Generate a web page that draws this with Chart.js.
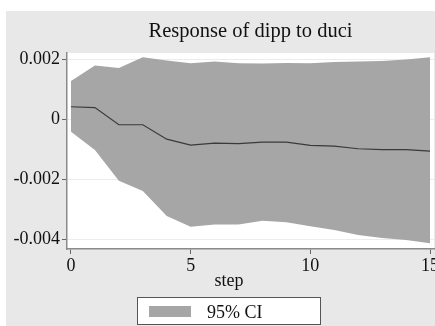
<!DOCTYPE html>
<html>
<head>
<meta charset="utf-8">
<script src="https://cdn.jsdelivr.net/npm/chart.js@4/dist/chart.umd.min.js"></script>
<style>
  html, body { margin: 0; padding: 0; background: #ffffff; overflow: hidden; width: 435px; height: 326px; }
  #wrap { position: absolute; left: 6px; top: 11px; width: 446px; height: 315px; }
</style>
</head>
<body>
<div id="wrap"><canvas id="c"></canvas></div>
<script>
const steps = [0, 1, 2, 3, 4, 5, 6, 7, 8, 9, 10, 11, 12, 13, 14, 15];
const irf = [0.00041, 0.00038, -0.00019, -0.00019, -0.00067, -0.00087, -0.00080, -0.00082, -0.00077, -0.00077, -0.00088, -0.00090, -0.00099, -0.00102, -0.00102, -0.00107];
const ciUpper = [0.00127, 0.00178, 0.00170, 0.00206, 0.00195, 0.00186, 0.00192, 0.00186, 0.00185, 0.00187, 0.00186, 0.00190, 0.00192, 0.00193, 0.00198, 0.00206];
const ciLower = [-0.00042, -0.00103, -0.00206, -0.00240, -0.00323, -0.00359, -0.00351, -0.00351, -0.00339, -0.00344, -0.00357, -0.00370, -0.00386, -0.00396, -0.00403, -0.00414];
const xTicks = [0, 5, 10, 15];
const yTicks = [0.002, 0, -0.002, -0.004];
const yTickLabels = ['0.002', '0', '-0.002', '-0.004'];
const titleText = 'Response of dipp to duci';
const xTitle = 'step';
const ciLabel = '95% CI';

const FONT = "'Liberation Serif', 'Times New Roman', serif";
const toPts = (ys) => steps.map((s, i) => ({ x: s, y: ys[i] }));

const bgPlugin = {
  id: 'bg',
  beforeDraw(chart) {
    const { ctx, chartArea: a } = chart;
    ctx.save();
    ctx.fillStyle = '#e8e8e8';
    ctx.fillRect(0, 0, chart.width, chart.height);
    ctx.fillStyle = '#ffffff';
    ctx.fillRect(a.left, a.top, a.right - a.left, a.bottom - a.top);
    ctx.restore();
  }
};

const stataLegend = {
  id: 'stataLegend',
  afterDraw(chart) {
    const ctx = chart.ctx;
    const cx = chart.width / 2;
    ctx.save();
    // axis title
    ctx.font = '18px ' + FONT;
    ctx.fillStyle = '#111';
    ctx.textAlign = 'center';
    ctx.textBaseline = 'alphabetic';
    ctx.fillText(xTitle, cx, 274.5);
    // legend box
    const bw = 184, bx = cx - bw / 2, by = 286, bh = 28;
    ctx.fillStyle = '#ffffff';
    ctx.fillRect(bx, by, bw, bh);
    ctx.strokeStyle = '#555';
    ctx.lineWidth = 1;
    ctx.strokeRect(bx + 0.5, by + 0.5, bw - 1, bh - 1);
    const ds = chart.data.datasets[1];
    ctx.fillStyle = ds.backgroundColor;
    ctx.fillRect(bx + 12, by + 9, 42, 11);
    ctx.fillStyle = '#111';
    ctx.textAlign = 'left';
    ctx.fillText(ds.label, bx + 70, by + 21);
    ctx.restore();
  }
};

new Chart(document.getElementById('c'), {
  type: 'line',
  data: {
    datasets: [
      {
        label: 'irf',
        data: toPts(irf),
        borderColor: '#3a3a3a',
        borderWidth: 1.2,
        pointRadius: 0,
        fill: false,
        order: 0
      },
      {
        label: ciLabel,
        data: toPts(ciUpper),
        borderWidth: 0,
        borderColor: 'rgba(0,0,0,0)',
        backgroundColor: '#a6a6a6',
        pointRadius: 0,
        fill: '+1',
        order: 1
      },
      {
        label: 'lower',
        data: toPts(ciLower),
        borderWidth: 0,
        borderColor: 'rgba(0,0,0,0)',
        pointRadius: 0,
        fill: false,
        order: 2
      }
    ]
  },
  options: {
    responsive: true,
    maintainAspectRatio: false,
    animation: false,
    events: [],
    layout: { padding: { left: 0, right: 18, top: 0, bottom: 0 } },
    elements: { line: { tension: 0 } },
    plugins: {
      legend: { display: false },
      tooltip: { enabled: false },
      title: {
        display: true,
        text: titleText,
        fullSize: false,
        color: '#111',
        font: { family: FONT, size: 20.5, weight: 'normal', lineHeight: 1.2 },
        padding: { top: 8.6, bottom: 8.8 }
      }
    },
    scales: {
      x: {
        type: 'linear',
        min: -0.167,
        max: 15.167,
        afterBuildTicks: (s) => { s.ticks = xTicks.map(v => ({ value: v })); },
        afterFit: (s) => { s.height = 77; },
        grid: { display: true, drawOnChartArea: false, drawTicks: true, tickLength: 5, tickColor: '#666', tickWidth: 1 },
        border: { display: true, color: '#8a8a8a', width: 1.5 },
        ticks: { color: '#111', padding: 1, font: { family: FONT, size: 18 }, maxRotation: 0, autoSkip: false }
      },
      y: {
        type: 'linear',
        min: -0.00433,
        max: 0.0022,
        afterBuildTicks: (s) => { s.ticks = yTicks.map(v => ({ value: v })); },
        afterFit: (s) => { s.width = 61; },
        grid: { display: true, drawOnChartArea: true, color: '#ececec', lineWidth: 1, drawTicks: true, tickLength: 5, tickColor: '#666', tickWidth: 1 },
        border: { display: true, color: '#8a8a8a', width: 1.5 },
        ticks: {
          color: '#111', padding: 2, font: { family: FONT, size: 18 }, autoSkip: false,
          callback: (v) => { const i = yTicks.indexOf(v); return i >= 0 ? yTickLabels[i] : ''; }
        }
      }
    }
  },
  plugins: [bgPlugin, stataLegend]
});
</script>
</body>
</html>
